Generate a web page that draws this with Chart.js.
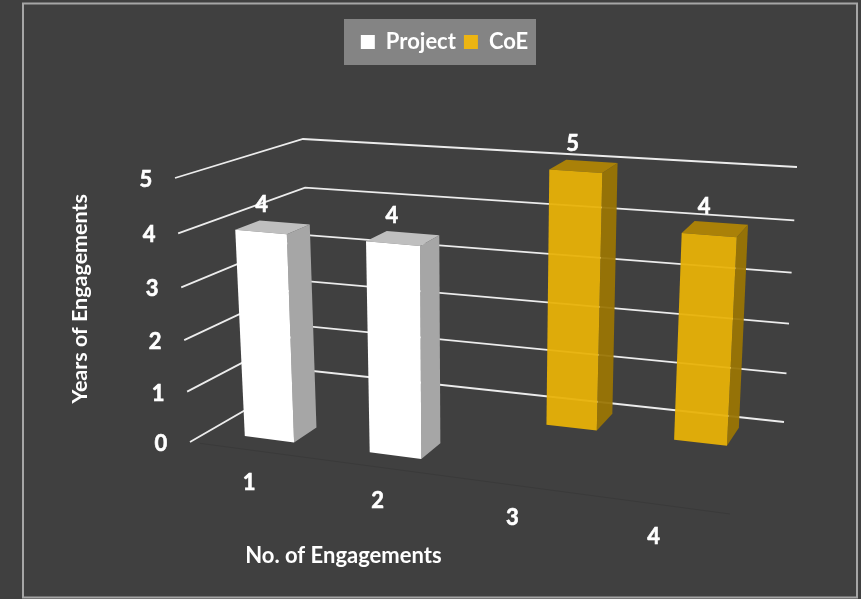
<!DOCTYPE html>
<html>
<head>
<meta charset="utf-8">
<title>Engagements</title>
<script src="https://cdn.jsdelivr.net/npm/chart.js@4"></script>
<style>
  html, body { margin: 0; padding: 0; background: #404040; overflow: hidden; }
  canvas { display: block; }
</style>
</head>
<body>
<canvas id="engagementChart" width="861" height="599"></canvas>
<script>
const categories = ["1", "2", "3", "4"];
const projectValues = [4, 4, null, null];
const coeValues = [null, null, 5, 4];
const yTicksMax = 5;

const font = "Lato";

// screen corners of the 3d box, named by side, u = left/right, v = bottom/top, w = front/back
const box = {
  lbf: [190, 442], rbf: [730, 514], lbb: [313, 371], rbb: [784, 422],
  ltf: [175, 178], rtf: [748, 224], ltb: [303, 139], rtb: [797, 167]
};
const perspective = 1.1;
const perspectiveUp = 1.06;
const barDepth = 0.2;
const rowDepth = [0.25, 0.79];

const shades = [
  { front: "#ffffff", side: "#a6a6a6", top: "#bfbfbf" },
  { front: "rgba(232,177,6,0.94)", side: "rgba(154,117,3,0.94)", top: "rgba(176,133,4,0.94)" }
];

function mix(a, b, t) {
  return [a[0] + (b[0] - a[0]) * t, a[1] + (b[1] - a[1]) * t];
}

function project(u, v, w) {
  const s = u / (perspective - (perspective - 1) * u);
  const h = v / (perspectiveUp - (perspectiveUp - 1) * v);
  const bottom = mix(mix(box.lbf, box.rbf, s), mix(box.lbb, box.rbb, s), w);
  const top = mix(mix(box.ltf, box.rtf, s), mix(box.ltb, box.rtb, s), w);
  return mix(bottom, top, h);
}

function poly(ctx, pts, fill) {
  ctx.beginPath();
  pts.forEach((p, i) => i ? ctx.lineTo(p[0], p[1]) : ctx.moveTo(p[0], p[1]));
  ctx.closePath();
  ctx.fillStyle = fill;
  ctx.fill();
}

function label(ctx, text, x, y) {
  ctx.font = "bold 22px " + font;
  ctx.fillStyle = "#ffffff";
  ctx.strokeStyle = "#ffffff";
  ctx.lineWidth = 0.6;
  ctx.textAlign = "center";
  ctx.textBaseline = "middle";
  ctx.fillText(text, x, y);
  ctx.strokeText(text, x, y);
}

const box3d = {
  id: "box3d",
  afterLayout(chart) {
    // legend sits right of the canvas middle
    chart.legend.left += 118;
    chart.legend.right += 118;
  },
  beforeDraw(chart) {
    const ctx = chart.ctx;
    ctx.save();
    ctx.fillStyle = "#404040";
    ctx.fillRect(0, 0, chart.width, chart.height);
    ctx.strokeStyle = "#a6a6a6";
    ctx.lineWidth = 2;
    ctx.strokeRect(23, 3.5, 834, 594);
    ctx.fillStyle = "#848484";
    ctx.fillRect(344, 19, 192, 46);
    ctx.restore();
  },
  beforeDatasetsDraw(chart) {
    const ctx = chart.ctx;
    const area = chart.chartArea;
    const xScale = chart.scales.x;
    const yScale = chart.scales.y;
    const toU = x => (x - area.left) / area.width;
    const toV = y => (area.bottom - y) / area.height;

    ctx.save();

    // floor edge
    ctx.strokeStyle = "#3a3a3a";
    ctx.lineWidth = 1;
    ctx.beginPath();
    ctx.moveTo(...project(0.02, 0, 0));
    ctx.lineTo(...project(1, 0, 0));
    ctx.stroke();

    // grid lines on the side wall and the back wall
    yScale.ticks.forEach(tick => {
      const v = toV(yScale.getPixelForValue(tick.value));
      ctx.strokeStyle = "#ececec";
      ctx.lineWidth = 1.8;
      ctx.beginPath();
      ctx.moveTo(...project(0, v, 0));
      ctx.lineTo(...project(0, v, 1));
      ctx.lineTo(...project(1, v, 1));
      ctx.stroke();
      const p = project(0, v, 0);
      label(ctx, tick.label, p[0] - 29, p[1] + 2);
    });

    categories.forEach((c, i) => {
      const p = project(toU(xScale.getPixelForTick(i)), 0, 0);
      label(ctx, c, p[0] - 3, p[1] + 33);
    });

    // back row first, each dataset is one row in depth
    for (let d = chart.data.datasets.length - 1; d >= 0; d--) {
      const meta = chart.getDatasetMeta(d);
      const shade = shades[d];
      const w0 = rowDepth[d] - barDepth / 2;
      const w1 = w0 + barDepth;
      meta.data.forEach((bar, i) => {
        if (chart.data.datasets[d].data[i] == null) return;
        const u0 = toU(bar.x - bar.width / 2);
        const u1 = toU(bar.x + bar.width / 2);
        const v0 = toV(bar.base);
        const v1 = toV(bar.y);
        poly(ctx, [project(u1, v0, w0), project(u1, v0, w1), project(u1, v1, w1), project(u1, v1, w0)], shade.side);
        poly(ctx, [project(u0, v1, w0), project(u1, v1, w0), project(u1, v1, w1), project(u0, v1, w1)], shade.top);
        poly(ctx, [project(u0, v0, w0), project(u1, v0, w0), project(u1, v1, w0), project(u0, v1, w0)], shade.front);
        const c = project((u0 + u1) / 2, v1, (w0 + w1) / 2);
        label(ctx, String(chart.data.datasets[d].data[i]), c[0] - 11, c[1] - 22);
      });
    }
    ctx.restore();
    return false;
  }
};

new Chart(document.getElementById("engagementChart"), {
  type: "bar",
  data: {
    labels: categories,
    datasets: [
      { label: "Project", data: projectValues, backgroundColor: "#ffffff", borderWidth: 0 },
      { label: "CoE", data: coeValues, backgroundColor: "#edb512", borderWidth: 0 }
    ]
  },
  plugins: [box3d],
  options: {
    responsive: false,
    animation: false,
    devicePixelRatio: 1,
    grouped: false,
    barPercentage: 0.4,
    categoryPercentage: 1,
    layout: { padding: { left: 67, right: 275, top: 23, bottom: 30 } },
    plugins: {
      tooltip: { enabled: false },
      legend: {
        position: "top",
        labels: {
          boxWidth: 14,
          boxHeight: 14,
          padding: 8,
          color: "#ffffff",
          font: { family: font, size: 22, weight: "bold" }
        }
      }
    },
    scales: {
      x: {
        grid: { display: false },
        border: { display: false },
        ticks: { display: false },
        title: {
          display: true,
          text: "No. of Engagements",
          color: "#ffffff",
          font: { family: font, size: 22, weight: "bold" },
          padding: 0
        }
      },
      y: {
        min: 0,
        max: yTicksMax,
        grid: { display: false },
        border: { display: false },
        ticks: { display: false, stepSize: 1 },
        title: {
          display: true,
          text: "Years of Engagements",
          color: "#ffffff",
          font: { family: font, size: 21.5, weight: "bold" },
          padding: 0
        }
      }
    }
  }
});
</script>
</body>
</html>
